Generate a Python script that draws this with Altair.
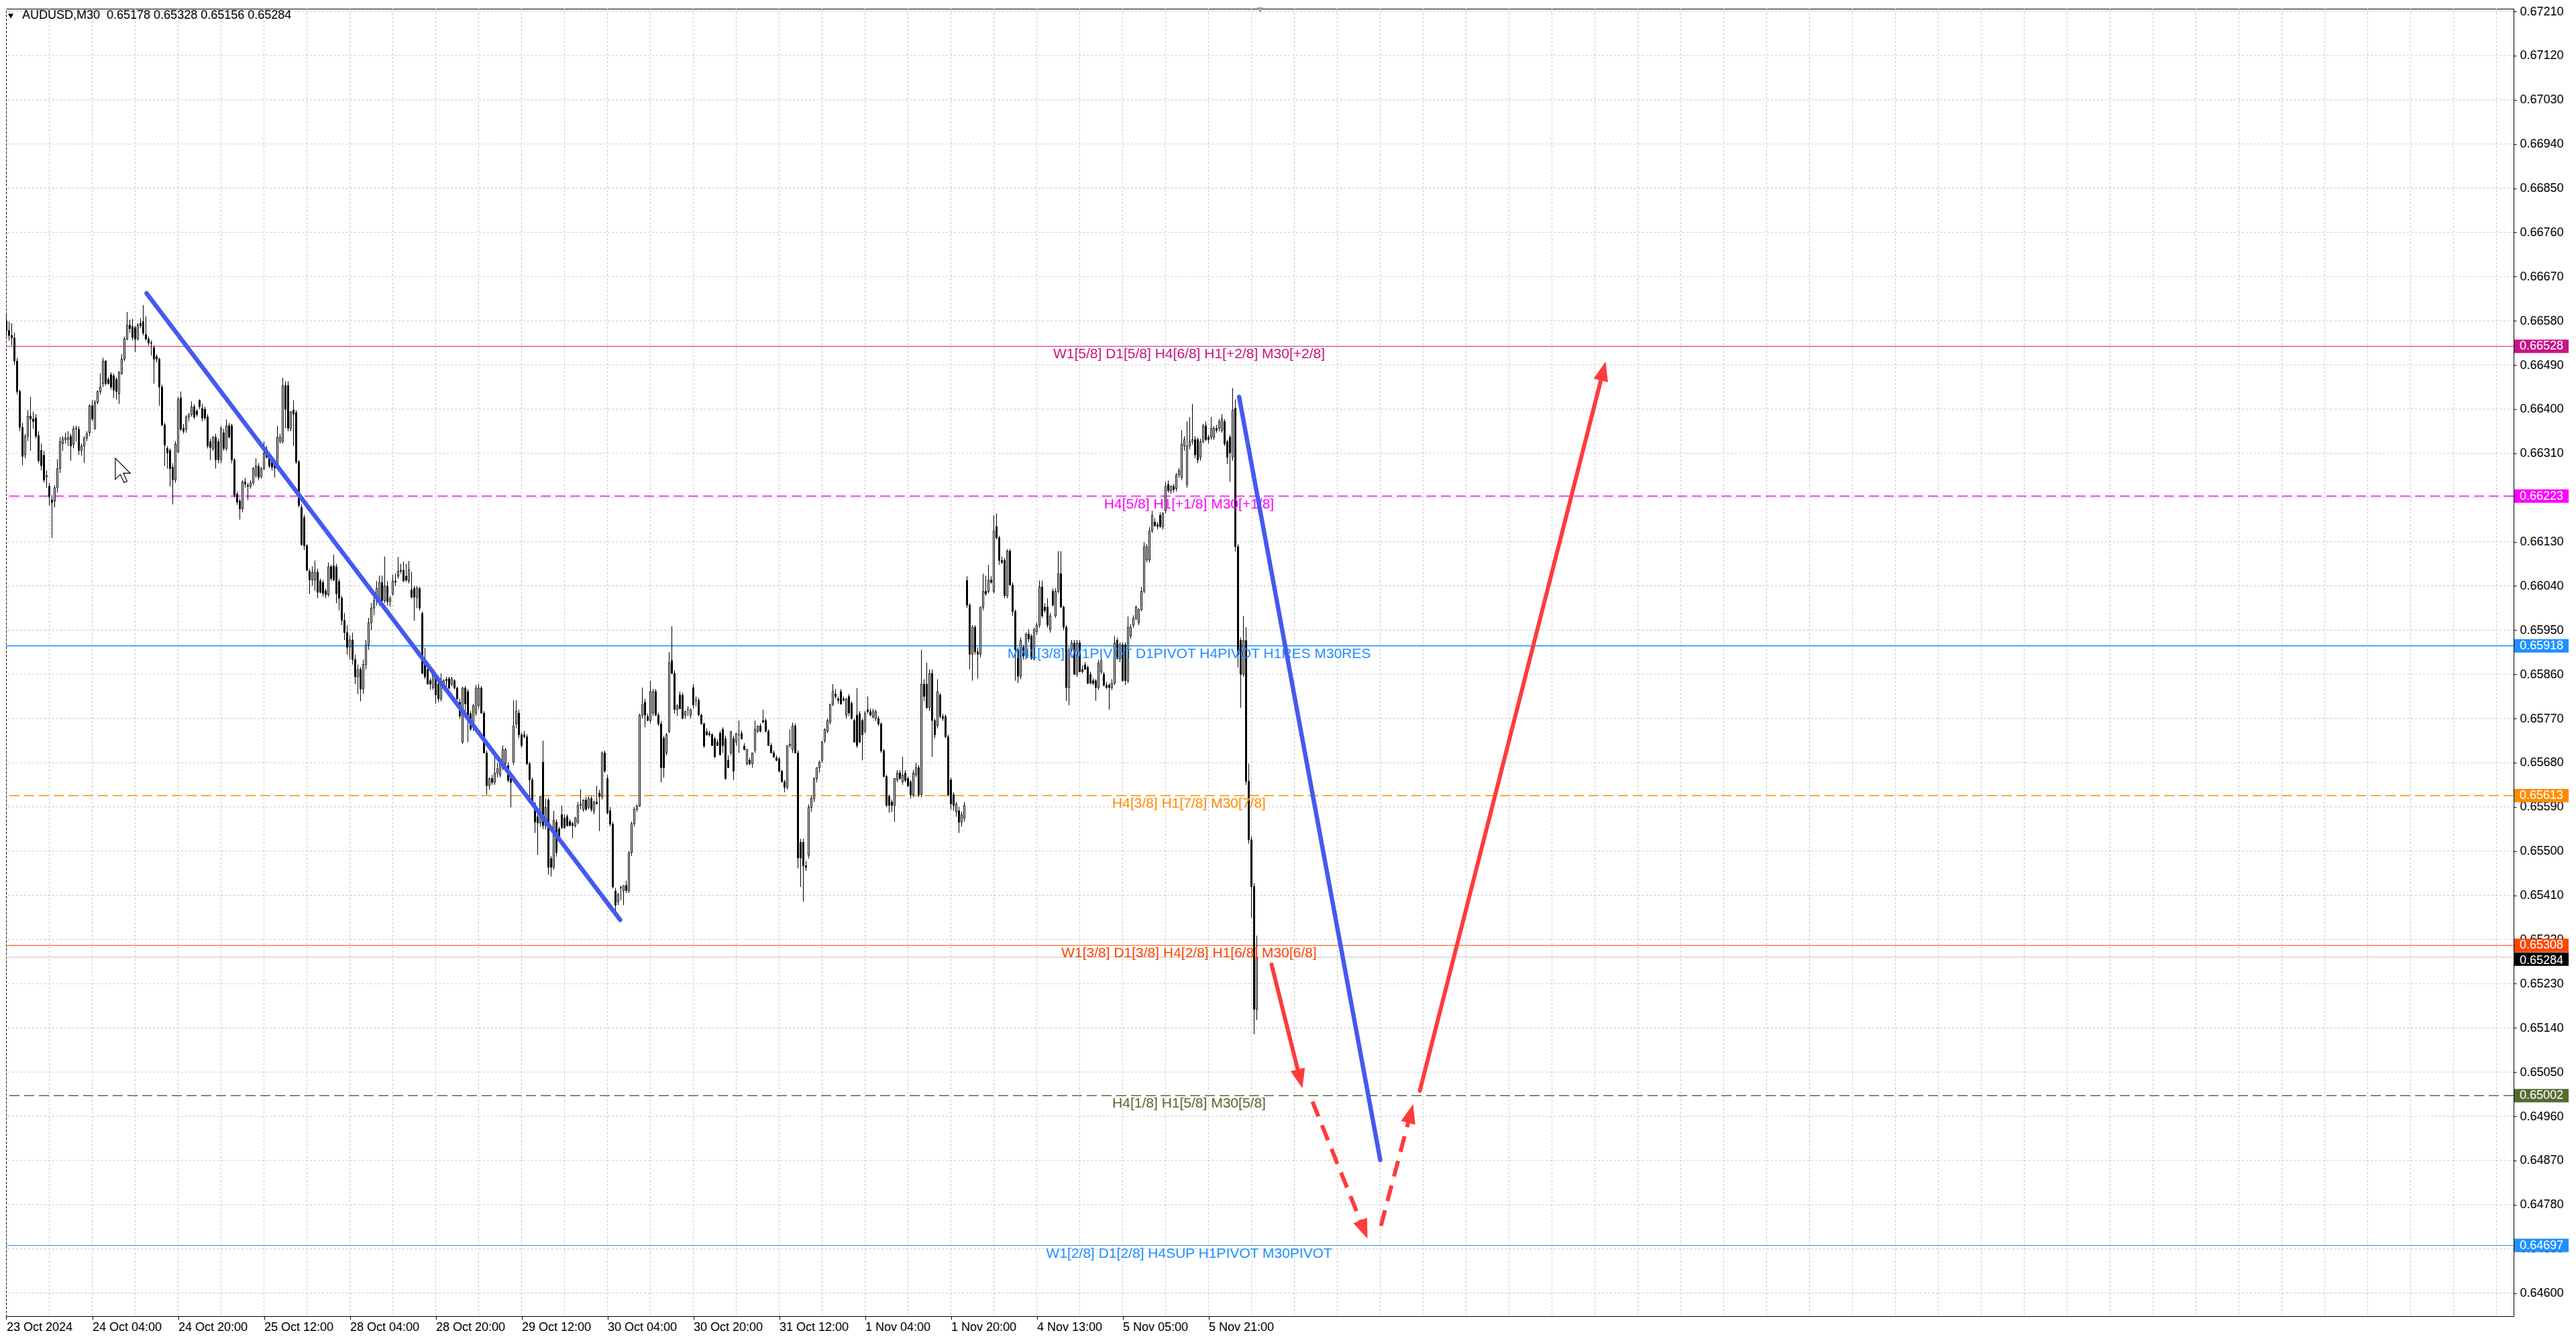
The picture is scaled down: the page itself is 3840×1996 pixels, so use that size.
import math
import altair as alt
import pandas as pd

# ---------------- data (prices in 1e-5 units, bar index = M30 bar number) ----------------
OPEN = [
66580,66560,66550,66545,66498,66436,66363,66307,66345,66386,
66380,66382,66346,66316,66306,66262,66243,66215,66213,66240,
66279,66330,66338,66338,66345,66328,66360,66359,66316,66325,
66341,66352,66407,66361,66414,66436,66452,66498,66461,66470,
66468,66461,66432,66473,66502,66543,66571,66568,66566,66543,
66575,66578,66552,66543,66535,66525,66507,66502,66445,66368,
66320,66316,66282,66256,66313,66423,66361,66359,66384,66389,
66405,66396,66418,66402,66400,66384,66334,66320,66343,66334,
66297,66352,66320,66366,66366,66297,66227,66213,66197,66252,
66245,66243,66250,66265,66284,66263,66279,66318,66309,66293,
66288,66284,66334,66334,66448,66448,66361,66398,66393,66293,
66200,66179,66122,66070,66052,66052,66068,66050,66047,66030,
66022,66079,66081,66079,66049,66015,65970,65945,65915,65930,
65890,65855,65870,65830,65880,65920,65965,65995,66010,66010,
66047,66010,66040,66008,66024,66050,66060,66070,66072,66060,
66050,66032,66035,66017,66035,65984,65880,65870,65847,65833,
65855,65840,65810,65833,65850,65851,65840,65847,65832,65803,
65722,65832,65825,65780,65752,65781,65796,65832,65781,65700,
65633,65648,65640,65659,65655,65670,65678,65674,65652,65681,
65759,65781,65737,65737,65733,65678,65645,65596,65570,65557,
65681,65552,65604,65485,65467,65559,65545,65574,65567,65570,
65560,65556,65552,65559,65593,65585,65604,65589,65607,65582,
65600,65618,65611,65700,65648,65582,65555,65419,65397,65426,
65419,65430,65419,65497,65556,65585,65592,65777,65803,65774,
65766,65781,65825,65777,65759,65730,65700,65744,65888,65862,
65788,65818,65818,65777,65788,65777,65833,65807,65807,65777,
65759,65743,65740,65737,65729,65722,65740,65748,65729,65685,
65700,65729,65722,65737,65740,65714,65678,65685,65678,65705,
65744,65755,65766,65766,65744,65715,65700,65690,65688,65663,
65641,65630,65715,65707,65755,65700,65518,65518,65470,65492,
65589,65607,65648,65670,65685,65725,65744,65763,65799,65820,
65810,65825,65810,65777,65815,65801,65766,65777,65780,65766,
65744,65788,65784,65773,65770,65770,65759,65704,65652,65611,
65600,65593,65645,65659,65641,65659,65648,65641,65615,65655,
65670,65615,65840,65840,65792,65862,65766,65755,65818,65774,
65774,65733,65645,65615,65580,65582,65559,65567,66051,66001,
65901,65956,65906,65901,65997,66029,66029,66052,66029,66161,
66138,66092,66092,66020,66111,66042,65988,65910,65856,65915,
65897,65942,65938,65892,65947,65960,66038,65997,65997,65951,
66029,65979,66029,66065,65997,65956,65833,65910,65924,65860,
65924,65870,65879,65874,65860,65847,65847,65833,65865,65860,
65838,65838,65833,65842,65929,65892,65920,65920,65847,65938,
65960,65974,65965,65992,66029,66093,66093,66152,66170,66165,
66184,66161,66193,66247,66234,66243,66238,66266,66261,66325,
66247,66325,66334,66338,66338,66302,66334,66366,66343,66343,
66343,66361,66361,66357,66375,66334,66343,66302,66402,66120,
65929,65860,65929,65642,65523,65428,65178,
]
HIGH = [
66593,66578,66575,66556,66505,66440,66372,66350,66398,66425,
66395,66390,66355,66330,66315,66275,66250,66225,66245,66298,
66343,66345,66352,66355,66350,66366,66366,66365,66330,66345,
66355,66410,66418,66419,66438,66473,66505,66500,66465,66475,
66472,66465,66478,66512,66548,66598,66582,66584,66570,66575,
66585,66612,66589,66548,66540,66530,66512,66505,66450,66372,
66325,66320,66290,66335,66425,66436,66370,66388,66392,66416,
66410,66400,66420,66411,66405,66390,66340,66345,66350,66340,
66366,66360,66379,66372,66370,66300,66232,66218,66255,66260,
66250,66255,66282,66300,66290,66282,66334,66325,66312,66298,
66292,66366,66350,66464,66457,66457,66396,66418,66398,66296,
66206,66185,66125,66075,66080,66092,66075,66055,66052,66035,
66088,66083,66104,66085,66055,66020,65985,65960,65940,65945,
65900,65880,65875,65890,65930,65975,66005,66030,66050,66061,
66061,66100,66050,66020,66063,66065,66099,66085,66090,66085,
66091,66069,66040,66040,66038,65988,65914,65875,65852,65870,
65860,65845,65862,65850,65855,65855,65855,65850,65835,65810,
65835,65836,65830,65785,65800,65838,65840,65836,65785,65705,
65650,65655,65692,65680,65690,65715,65710,65680,65660,65807,
65807,65788,65742,65745,65738,65682,65650,65600,65580,65612,
65725,65607,65608,65490,65582,65565,65550,65593,65575,65575,
65565,65560,65570,65600,65626,65605,65610,65611,65612,65603,
65633,65625,65703,65705,65655,65590,65560,65425,65415,65430,
65430,65440,65500,65560,65590,65595,65780,65833,65810,65780,
65847,65830,65830,65782,65765,65735,65740,65905,65958,65868,
65800,65825,65822,65785,65795,65790,65840,65815,65812,65780,
65762,65750,65745,65740,65733,65728,65745,65752,65735,65695,
65744,65735,65740,65766,65745,65720,65708,65690,65700,65766,
65755,65760,65788,65770,65748,65720,65705,65695,65692,65665,
65645,65715,65748,65762,65760,65705,65525,65525,65480,65595,
65612,65650,65670,65685,65725,65750,65770,65800,65840,65830,
65815,65830,65815,65812,65820,65805,65770,65832,65785,65770,
65785,65815,65790,65790,65788,65775,65762,65708,65655,65615,
65605,65648,65665,65665,65692,65665,65652,65645,65665,65680,
65675,65910,65850,65884,65870,65870,65770,65850,65822,65780,
65778,65737,65650,65620,65600,65590,65580,65600,66060,66005,
65960,65960,65915,65997,66065,66061,66083,66060,66184,66188,
66142,66100,66097,66115,66115,66047,65992,65915,65935,65920,
65945,65952,65942,65955,65965,66051,66051,66005,66015,65985,
66035,66035,66111,66111,66000,65960,65915,65930,65930,65930,
65930,65878,65885,65878,65865,65852,65850,65890,65895,65865,
65845,65842,65850,65938,65935,65925,65925,65925,65978,65962,
65980,66000,65995,66038,66129,66125,66160,66193,66178,66170,
66190,66190,66252,66255,66245,66248,66270,66280,66357,66345,
66375,66384,66411,66345,66342,66340,66370,66375,66348,66384,
66365,66368,66380,66390,66380,66338,66348,66443,66420,66125,
65935,65979,65956,65678,65530,65435,65328,
]
LOW = [
66548,66540,66530,66490,66430,66355,66286,66300,66335,66315,
66360,66340,66290,66275,66251,66240,66204,66138,66200,66230,
66270,66315,66330,66325,66295,66320,66334,66307,66305,66291,
66335,66345,66375,66358,66410,66430,66445,66448,66450,66440,
66423,66420,66411,66470,66498,66540,66555,66540,66516,66540,
66565,66550,66540,66530,66509,66452,66495,66407,66365,66284,
66279,66243,66206,66250,66310,66355,66350,66352,66375,66385,
66380,66385,66400,66375,66378,66320,66296,66315,66279,66290,
66290,66315,66315,66340,66290,66220,66205,66175,66190,66240,
66215,66238,66245,66260,66255,66258,66275,66300,66280,66275,
66261,66280,66330,66330,66361,66355,66355,66325,66288,66200,
66122,66113,66070,66024,66040,66030,66015,66025,66018,66015,
66018,66050,66050,66005,65990,65960,65930,65900,65890,65880,
65840,65820,65805,65820,65870,65910,65950,65980,66000,66000,
66005,66005,66000,65998,66020,66040,66055,66065,66048,66048,
66045,66015,65969,65995,65990,65860,65850,65840,65829,65828,
65800,65803,65805,65828,65835,65830,65835,65830,65808,65770,
65718,65780,65722,65745,65745,65775,65790,65780,65700,65615,
65625,65635,65635,65650,65650,65665,65675,65640,65589,65675,
65750,65730,65710,65730,65675,65604,65595,65537,65492,65550,
65545,65545,65452,65448,65462,65489,65522,65545,65545,65550,
65550,65526,65548,65555,65585,65580,65582,65585,65580,65575,
65595,65541,65605,65660,65575,65550,65424,65375,65390,65400,
65390,65415,65415,65490,65550,65580,65590,65770,65752,65765,
65760,65775,65775,65755,65640,65650,65695,65740,65860,65780,
65775,65790,65770,65770,65775,65770,65790,65795,65775,65758,
65710,65735,65733,65715,65690,65715,65695,65700,65645,65670,
65695,65645,65715,65700,65727,65705,65675,65675,65670,65700,
65740,65742,65760,65742,65715,65700,65690,65683,65660,65640,
65620,65625,65710,65700,65700,65465,65427,65397,65460,65485,
65580,65600,65640,65660,65680,65720,65740,65758,65795,65810,
65800,65798,65805,65770,65775,65768,65722,65710,65720,65685,
65740,65780,65775,65770,65765,65755,65700,65650,65590,65578,
65580,65560,65640,65645,65635,65640,65630,65607,65610,65650,
65610,65610,65805,65790,65785,65692,65730,65750,65770,65765,
65730,65612,65585,65582,65570,65537,65550,65560,65995,65870,
65847,65900,65851,65895,65990,66020,66025,66045,66025,66135,
66083,66085,66015,66015,66040,65979,65847,65842,65850,65890,
65890,65925,65890,65888,65940,65955,65975,65985,65955,65945,
65998,65975,66025,65995,65950,65806,65797,65905,65860,65855,
65865,65862,65870,65840,65840,65838,65806,65828,65860,65835,
65830,65788,65828,65838,65890,65885,65845,65838,65842,65932,
65955,65970,65960,65988,66025,66088,66088,66148,66160,66155,
66158,66155,66188,66230,66228,66230,66232,66260,66255,66315,
66240,66318,66328,66300,66290,66295,66330,66335,66330,66338,
66338,66352,66355,66352,66325,66288,66252,66295,66110,65874,
65792,65855,65635,65515,65364,65127,65156,
]
CLOSE = [
66560,66550,66545,66498,66436,66363,66304,66345,66386,66380,
66375,66345,66295,66285,66256,66265,66222,66210,66240,66279,
66334,66340,66342,66342,66325,66360,66361,66316,66325,66341,
66350,66407,66380,66414,66436,66445,66498,66452,66452,66445,
66439,66436,66475,66502,66543,66571,66564,66546,66543,66571,
66570,66555,66543,66535,66534,66502,66502,66445,66368,66327,
66311,66279,66256,66329,66420,66359,66355,66384,66389,66405,
66384,66389,66405,66382,66382,66325,66322,66343,66297,66297,
66361,66320,66366,66343,66297,66225,66211,66197,66252,66247,
66243,66250,66279,66284,66261,66279,66311,66302,66284,66282,
66280,66343,66343,66448,66400,66361,66395,66390,66293,66204,
66124,66122,66072,66052,66068,66068,66027,66027,66025,66022,
66079,66055,66052,66024,66015,65970,65945,65915,65930,65890,
65855,65870,65830,65880,65920,65965,65995,66010,66035,66047,
66010,66040,66008,66015,66050,66048,66070,66072,66050,66052,
66073,66017,66017,66035,65995,65862,65855,65840,65840,65870,
65818,65810,65840,65847,65847,65832,65851,65832,65810,65775,
65832,65800,65766,65748,65796,65832,65832,65781,65700,65633,
65648,65640,65659,65668,65678,65707,65707,65644,65640,65755,
65785,65737,65715,65733,65678,65645,65596,65559,65557,65611,
65552,65589,65467,65467,65563,65497,65526,65548,65548,65552,
65552,65552,65567,65593,65596,65604,65585,65607,65585,65600,
65596,65611,65700,65663,65578,65555,65427,65390,65412,65425,
65430,65420,65497,65556,65585,65592,65777,65799,65777,65766,
65825,65825,65777,65759,65670,65670,65737,65884,65862,65788,
65796,65790,65770,65785,65788,65788,65798,65807,65777,65759,
65714,65737,65737,65715,65692,65715,65696,65715,65648,65670,
65744,65663,65740,65737,65729,65707,65707,65678,65700,65748,
65755,65744,65763,65744,65715,65700,65692,65685,65663,65641,
65630,65715,65718,65755,65700,65486,65486,65470,65467,65589,
65607,65648,65670,65681,65722,65748,65766,65799,65825,65815,
65807,65800,65807,65810,65781,65770,65722,65715,65722,65737,
65781,65784,65777,65784,65784,65759,65704,65652,65593,65593,
65593,65648,65659,65648,65655,65644,65633,65615,65659,65670,
65615,65840,65815,65792,65862,65766,65737,65825,65774,65770,
65733,65615,65596,65593,65596,65559,65574,65593,66001,65901,
65956,65906,65901,65997,66029,66024,66052,66047,66152,66138,
66092,66088,66020,66111,66042,65988,65910,65856,65929,65897,
65942,65932,65892,65951,65960,66038,65979,65990,65960,65979,
66001,66029,66065,65997,65956,65833,65910,65924,65860,65924,
65865,65865,65870,65842,65842,65842,65833,65883,65888,65838,
65833,65833,65842,65924,65892,65920,65847,65847,65956,65956,
65974,65997,65992,66029,66120,66120,66152,66184,66163,66161,
66161,66188,66243,66234,66243,66236,66266,66275,66329,66338,
66325,66334,66338,66307,66297,66334,66366,66338,66338,66361,
66361,66357,66375,66380,66329,66302,66311,66398,66120,65901,
65860,65929,65642,65523,65428,65178,65284,
]
assert len(OPEN) == len(HIGH) == len(LOW) == len(CLOSE)

TIME_TICK_BARS = [0, 32, 64, 96, 128, 160, 192, 224, 256, 288, 320, 352, 384, 416, 448]
TIME_LABELS = ["23 Oct 2024", "24 Oct 04:00", "24 Oct 20:00", "25 Oct 12:00", "28 Oct 04:00",
               "28 Oct 20:00", "29 Oct 12:00", "30 Oct 04:00", "30 Oct 20:00", "31 Oct 12:00",
               "1 Nov 04:00", "1 Nov 20:00", "4 Nov 13:00", "5 Nov 05:00", "5 Nov 21:00"]
PRICE_TICKS = [0.67210, 0.67120, 0.67030, 0.66940, 0.66850, 0.66760, 0.66670, 0.66580, 0.66490,
               0.66400, 0.66310, 0.66220, 0.66130, 0.66040, 0.65950, 0.65860, 0.65770, 0.65680,
               0.65590, 0.65500, 0.65410, 0.65320, 0.65230, 0.65140, 0.65050, 0.64960, 0.64870,
               0.64780, 0.64690, 0.64600]

LEVEL_PRICES = [0.66528, 0.66223, 0.65918, 0.65613, 0.65308, 0.65002, 0.64697]
LEVEL_TEXTS = ["W1[5/8] D1[5/8] H4[6/8] H1[+2/8] M30[+2/8]",
               "H4[5/8] H1[+1/8] M30[+1/8]",
               "MN1[3/8] W1PIVOT D1PIVOT H4PIVOT H1RES M30RES",
               "H4[3/8] H1[7/8] M30[7/8]",
               "W1[3/8] D1[3/8] H4[2/8] H1[6/8] M30[6/8]",
               "H4[1/8] H1[5/8] M30[5/8]",
               "W1[2/8] D1[2/8] H4SUP H1PIVOT M30PIVOT"]
LEVEL_COLORS = ["#C71585", "#FF00FF", "#1E90FF", "#FF8C00", "#FF4500", "#556B2F", "#1E90FF"]
LEVEL_DASHED = [False, True, False, True, False, True, False]
LEVEL_WIDTHS = [1, 1.5, 1.5, 1.5, 1, 1.5, 1]
LABEL_BAR = 440.75
BID_PRICE = 0.65284
TITLE = "AUDUSD,M30\u00a0 0.65178 0.65328 0.65156 0.65284"

BLUE_T0 = [52.25, 459.4]
BLUE_P0 = [0.66636, 0.66425]
BLUE_T1 = [228.75, 512.0]
BLUE_P1 = [0.65360, 0.64871]

ARROW_T0 = [471.5, 486.75, 512.25, 526.75]
ARROW_P0 = [0.65269, 0.64990, 0.64737, 0.65012]
ARROW_T1 = [483.0, 507.25, 524.25, 596.0]
ARROW_P1 = [0.65017, 0.64711, 0.64985, 0.66497]
ARROW_DASHED = [False, True, True, False]

CURSOR_T, CURSOR_P = 40.6, 0.66300
SHIFT_BAR = 467.25

# ---------------- layout ----------------
W, H = 3738, 1949
X_DOM = [-0.125, 934.375]
Y_DOM = [0.645529, 0.672155]
PX_T = W / (X_DOM[1] - X_DOM[0])
PX_P = H / (Y_DOM[1] - Y_DOM[0])
FONT_AX = "Liberation Sans"
BLUE = "#4459F0"
RED = "#FF3B3B"
BOX_SHAPE = "M-2.025,-0.5H2.025V0.5H-2.025Z"
BID_BOX_SHAPE = "M-2.025,-0.35H2.025V0.65H-2.025Z"

xs = alt.Scale(domain=X_DOM, nice=False, zero=False)
ys = alt.Scale(domain=Y_DOM, nice=False, zero=False)

label_expr = "[" + ",".join("'" + s + "'" for s in TIME_LABELS) + "][round(datum.value/32)]"
XA = alt.Axis(values=TIME_TICK_BARS, labelExpr=label_expr, labelAlign="left",
              labelBaseline="top", labelFont=FONT_AX, labelFontSize=18, labelColor="black",
              tickSize=5, tickColor="black", domainColor="black", labelPadding=2,
              grid=False, title=None, labelOverlap=False, labelFlush=False, labelBound=False)
YA = alt.Axis(orient="right", values=PRICE_TICKS, format=".5f", labelFont=FONT_AX,
              labelFontSize=18, labelColor="black", tickSize=4, tickColor="black",
              domainColor="black", labelPadding=5, grid=False, title=None,
              labelOverlap=False, labelFlush=False, labelBound=False)


def X(field):
    return alt.X(field, scale=xs, axis=XA)


def Y(field):
    return alt.Y(field, scale=ys, axis=YA)


# ---------------- tables ----------------
bars = pd.DataFrame({"t": range(len(OPEN)), "o": OPEN, "h": HIGH, "l": LOW, "c": CLOSE})
for col in ["o", "h", "l", "c"]:
    bars[col] = bars[col] / 100000.0
bars["x1"] = bars["t"] - 0.25
bars["x2"] = bars["t"] + 0.25

grid_y = pd.DataFrame({"p": PRICE_TICKS})
grid_x = pd.DataFrame({"t": list(range(0, 935, 16))})

levels = pd.DataFrame({"p": LEVEL_PRICES, "txt": LEVEL_TEXTS, "col": LEVEL_COLORS,
                       "dashed": LEVEL_DASHED, "w": LEVEL_WIDTHS})
levels["t"] = LABEL_BAR
levels["lab"] = [f"{v:.5f}" for v in LEVEL_PRICES]

bid_df = pd.DataFrame({"p": [BID_PRICE], "lab": [f"{BID_PRICE:.5f}"]})

blue = pd.DataFrame({"t0": BLUE_T0, "p0": BLUE_P0, "t1": BLUE_T1, "p1": BLUE_P1})

arr = pd.DataFrame({"t0": ARROW_T0, "p0": ARROW_P0, "t1": ARROW_T1, "p1": ARROW_P1,
                    "dashed": ARROW_DASHED})
ends_t, ends_p, angs = [], [], []
for r in arr.itertuples():
    dx = (r.t1 - r.t0) * PX_T
    dy = -(r.p1 - r.p0) * PX_P
    L = math.hypot(dx, dy)
    ux, uy = dx / L, dy / L
    back = 20.0
    ends_t.append(r.t1 - ux * back / PX_T)
    ends_p.append(r.p1 + uy * back / PX_P)
    angs.append(math.degrees(math.atan2(dx, -dy)) % 360)
arr["te"] = ends_t
arr["pe"] = ends_p
arr["ang"] = angs

# ---------------- layers ----------------
ygrid = alt.Chart(grid_y).mark_rule(color="#C8C8C8", strokeDash=[3, 3], strokeWidth=1).encode(
    y=Y("p:Q"))
xgrid = alt.Chart(grid_x).mark_rule(color="#C8C8C8", strokeDash=[3, 3], strokeWidth=1).encode(
    x=X("t:Q"))

lvl_solid = alt.Chart(levels).transform_filter("!datum.dashed").mark_rule().encode(
    y=Y("p:Q"),
    color=alt.Color("col:N", scale=None),
    strokeWidth=alt.StrokeWidth("w:Q", scale=None))
lvl_dash = alt.Chart(levels).transform_filter("datum.dashed").mark_rule(strokeDash=[15, 7]).encode(
    y=Y("p:Q"),
    color=alt.Color("col:N", scale=None),
    strokeWidth=alt.StrokeWidth("w:Q", scale=None))
bid = alt.Chart(bid_df).mark_rule(color="#C0C0C0", strokeWidth=1).encode(y=Y("p:Q"))

wicks = alt.Chart(bars).mark_rule(color="black", strokeWidth=1, clip=True).encode(
    x=X("t:Q"), y=Y("l:Q"), y2="h:Q")
bodies = alt.Chart(bars).mark_rect(stroke="black", strokeWidth=1, clip=True).encode(
    x=X("x1:Q"), x2="x2:Q",
    y=Y("o:Q"), y2="c:Q",
    fill=alt.condition("datum.c >= datum.o", alt.value("white"), alt.value("black")))

level_text = alt.Chart(levels).mark_text(font="Liberation Sans", fontSize=21, align="center",
                                         baseline="alphabetic", dy=18).encode(
    x=X("t:Q"), y=Y("p:Q"),
    text="txt:N",
    color=alt.Color("col:N", scale=None))

blue_lines = alt.Chart(blue).mark_rule(color=BLUE, strokeWidth=6.5, strokeCap="round").encode(
    x=X("t0:Q"), y=Y("p0:Q"), x2="t1:Q", y2="p1:Q")

arrow_solid = alt.Chart(arr).transform_filter("!datum.dashed").mark_rule(
    color=RED, strokeWidth=6, strokeCap="round").encode(
    x=X("t0:Q"), y=Y("p0:Q"), x2="te:Q", y2="pe:Q")
arrow_dash = alt.Chart(arr).transform_filter("datum.dashed").mark_rule(
    color=RED, strokeWidth=6, strokeDash=[24, 14]).encode(
    x=X("t0:Q"), y=Y("p0:Q"), x2="te:Q", y2="pe:Q")
arrow_heads = alt.Chart(arr).mark_point(shape="M0,0L-0.55,1.45L0.55,1.45Z", filled=True,
                                        color=RED, opacity=1, size=1600).encode(
    x=X("t1:Q"), y=Y("p1:Q"),
    angle=alt.Angle("ang:Q", scale=None))

# price boxes on the right scale: the bid box sits underneath the level boxes
bid_box = alt.Chart(bid_df).mark_point(shape=BID_BOX_SHAPE, filled=True, color="black",
                                       opacity=1, size=1600).encode(
    x=alt.value(W + 41.5), y=Y("p:Q"))
bid_text = alt.Chart(bid_df).mark_text(font=FONT_AX, fontSize=18, align="left",
                                       baseline="middle", color="white", dy=5).encode(
    x=alt.value(W + 9), y=Y("p:Q"), text="lab:N")
box_marks = alt.Chart(levels).mark_point(shape=BOX_SHAPE, filled=True,
                                         opacity=1, size=1600).encode(
    x=alt.value(W + 41.5),
    y=Y("p:Q"),
    color=alt.Color("col:N", scale=None))
box_text = alt.Chart(levels).mark_text(font=FONT_AX, fontSize=18, align="left", baseline="middle",
                                       color="white").encode(
    x=alt.value(W + 9), y=Y("p:Q"), text="lab:N")

title_df = pd.DataFrame({"txt": [TITLE]})
title_text = alt.Chart(title_df).mark_text(font=FONT_AX, fontSize=18, align="left",
                                           baseline="middle", color="black").encode(
    x=alt.value(24), y=alt.value(10), text="txt:N")
title_tri = alt.Chart(title_df).mark_point(shape="triangle-down", filled=True, color="black",
                                           opacity=1, size=70).encode(
    x=alt.value(7), y=alt.value(11))

cursor = alt.Chart(pd.DataFrame({"t": [CURSOR_T], "p": [CURSOR_P]})).mark_point(
    shape="M0,0L0,1.7L0.4,1.3L0.7,1.95L0.95,1.85L0.65,1.2L1.2,1.2Z", filled=True,
    fill="white", stroke="black", strokeWidth=1.2, opacity=1, size=1369).encode(
    x=X("t:Q"), y=Y("p:Q"))

shift_mark = alt.Chart(pd.DataFrame({"t": [SHIFT_BAR]})).mark_point(
    shape="triangle-down", filled=True, color="#A0A0A0", opacity=1, size=90).encode(
    x=X("t:Q"), y=alt.value(2))

chart = alt.layer(
    ygrid, xgrid, lvl_solid, lvl_dash, bid, wicks, bodies, level_text,
    blue_lines, arrow_solid, arrow_dash, arrow_heads,
    bid_box, bid_text, box_marks, box_text, title_text, title_tri, cursor, shift_mark,
).properties(
    width=W, height=H, padding={"left": 0, "top": 0, "right": 0, "bottom": 0},
    background="white",
).configure_view(stroke="black", strokeWidth=1)

chart.save("out.html", embed_options={"renderer": "svg", "actions": False})
